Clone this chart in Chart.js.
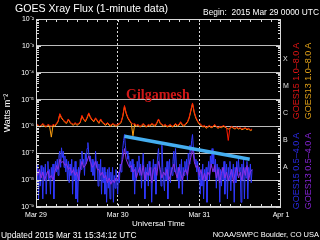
<!DOCTYPE html>
<html>
<head>
<meta charset="utf-8">
<script src="https://cdn.jsdelivr.net/npm/chart.js@4.4.1/dist/chart.umd.min.js"></script>
<style>
  html, body { margin: 0; padding: 0; background: #000; }
  #wrap { position: relative; width: 320px; height: 240px; overflow: hidden; font-family: "Liberation Sans", Arial, sans-serif; color: #fff; }
  #wrap canvas { position: absolute; left: 0; top: 0; }
  .lbl { position: absolute; white-space: pre; line-height: 1; }
  .side { position: absolute; white-space: pre; line-height: 1; font-size: 9px; transform: translate(-50%, -50%) rotate(-90deg); }
</style>
</head>
<body>
<div id="wrap">
  <canvas id="xray" width="320" height="240"></canvas>
  <div class="lbl" style="left:15px;top:3px;font-size:10.6px">GOES Xray Flux (1-minute data)</div>
  <div class="lbl" style="right:1px;top:8px;font-size:8.4px">Begin:  2015 Mar 29 0000 UTC</div>
  <div class="lbl" style="left:1px;top:231px;font-size:8.4px">Updated 2015 Mar 31 15:34:12 UTC</div>
  <div class="lbl" style="right:1px;top:231px;font-size:7.5px">NOAA/SWPC Boulder, CO USA</div>
  <div class="lbl" style="left:126px;top:88px;font-size:14px;font-family:'Liberation Serif',serif;font-weight:bold;color:#d01818">Gilgamesh</div>
  <div class="side" style="left:296px;top:81px;color:#e01414">GOES15 1.0–8.0 A</div>
  <div class="side" style="left:308px;top:81px;color:#e0a018">GOES13 1.0–8.0 A</div>
  <div class="side" style="left:296px;top:171px;color:#2a2ae6">GOES15 0.5–4.0 A</div>
  <div class="side" style="left:308px;top:171px;color:#8424d4">GOES13 0.5–4.0 A</div>
</div>
<script>
// hours from 2015 Mar 29 00:00 UTC
const longStep = 0.5
const shortStep = 0.25

const dayHours = [0, 24, 48, 72]
const dayLabels = ['Mar 29', 'Mar 30', 'Mar 31', 'Apr 1']

const yTickValues = [1e-9, 1e-8, 1e-7, 1e-6, 1e-5, 1e-4, 1e-3, 1e-2]
const yTickLabels = ['10⁻⁹', '10⁻⁸', '10⁻⁷', '10⁻⁶', '10⁻⁵', '10⁻⁴', '10⁻³', '10⁻²']

const flareClasses = ['X', 'M', 'C', 'B', 'A']
const flareLevels = [3.2e-4, 3.2e-5, 3.2e-6, 3.2e-7, 3.2e-8]

// GOES15 1.0-8.0 A, every 30 min
const goes15Long = [
  1.1e-6, 1.2e-6, 1.0e-6, 1.1e-6, 1.3e-6, 1.1e-6, 1.0e-6, 1.2e-6,
  1.1e-6, 1.0e-6, 1.2e-6, 1.1e-6, 1.3e-6, 1.6e-6, 3.0e-6, 2.2e-6,
  1.8e-6, 1.5e-6, 1.4e-6, 1.9e-6, 1.5e-6, 1.3e-6, 1.2e-6, 1.4e-6,
  1.2e-6, 1.3e-6, 1.5e-6, 2.6e-6, 1.9e-6, 1.6e-6, 2.2e-6, 3.2e-6,
  2.3e-6, 1.8e-6, 1.6e-6, 2.1e-6, 1.7e-6, 1.4e-6, 1.9e-6, 1.5e-6,
  1.3e-6, 1.2e-6, 1.4e-6, 1.2e-6, 1.1e-6, 1.3e-6, 1.2e-6, 1.1e-6,
  1.2e-6, 1.3e-6, 1.5e-6, 2.5e-6, 6.0e-6, 3.2e-6, 2.2e-6, 1.7e-6,
  1.4e-6, 1.2e-6, 1.3e-6, 1.1e-6, 1.2e-6, 1.0e-6, 1.1e-6, 1.3e-6,
  1.1e-6, 1.0e-6, 1.2e-6, 1.1e-6, 1.3e-6, 1.2e-6, 1.1e-6, 1.4e-6,
  1.9e-6, 1.4e-6, 1.2e-6, 1.1e-6, 1.2e-6, 1.0e-6, 1.1e-6, 1.2e-6,
  1.0e-6, 1.1e-6, 1.3e-6, 1.1e-6, 1.2e-6, 1.5e-6, 1.2e-6, 1.1e-6,
  1.3e-6, 1.5e-6, 2.2e-6, 4.0e-6, 7.5e-6, 3.5e-6, 2.2e-6, 1.6e-6,
  1.3e-6, 1.2e-6, 1.0e-6, 1.1e-6, 9.0e-7, 1.0e-6, 1.1e-6, 9.5e-7,
  1.0e-6, 1.2e-6, 1.0e-6, 9.0e-7, 1.0e-6, 9.5e-7, 1.1e-6, 1.0e-6,
  9.0e-7, 3.0e-7, 9.0e-7, 1.0e-6, 9.0e-7, 8.5e-7, 9.5e-7, 8.5e-7,
  9.0e-7, 8.0e-7, 8.5e-7, 9.0e-7, 8.0e-7, 8.5e-7, 7.5e-7, 8.0e-7
]

// GOES13 1.0-8.0 A, every 30 min
const goes13Long = [
  1.0e-6, 1.1e-6, 9.5e-7, 1.0e-6, 1.2e-6, 1.0e-6, 9.5e-7, 1.1e-6,
  1.0e-6, 4.0e-7, 1.1e-6, 1.0e-6, 1.2e-6, 1.5e-6, 2.8e-6, 2.0e-6,
  1.7e-6, 1.4e-6, 1.3e-6, 1.8e-6, 1.4e-6, 1.2e-6, 1.1e-6, 1.3e-6,
  1.1e-6, 1.2e-6, 1.4e-6, 2.4e-6, 1.8e-6, 1.5e-6, 2.0e-6, 3.0e-6,
  2.1e-6, 1.7e-6, 1.5e-6, 2.0e-6, 1.6e-6, 1.3e-6, 1.8e-6, 1.4e-6,
  1.2e-6, 1.1e-6, 1.3e-6, 1.1e-6, 1.0e-6, 1.2e-6, 1.1e-6, 1.0e-6,
  1.1e-6, 1.2e-6, 1.4e-6, 2.3e-6, 5.5e-6, 3.0e-6, 2.0e-6, 1.6e-6,
  1.3e-6, 4.5e-7, 1.2e-6, 1.0e-6, 1.1e-6, 9.5e-7, 1.0e-6, 1.2e-6,
  1.0e-6, 9.5e-7, 1.1e-6, 1.0e-6, 1.2e-6, 1.1e-6, 1.0e-6, 1.3e-6,
  1.8e-6, 1.3e-6, 1.1e-6, 1.0e-6, 1.1e-6, 9.5e-7, 1.0e-6, 1.1e-6,
  9.5e-7, 1.0e-6, 1.2e-6, 1.0e-6, 1.1e-6, 1.4e-6, 1.1e-6, 1.0e-6,
  1.2e-6, 1.4e-6, 2.0e-6, 3.7e-6, 7.0e-6, 3.2e-6, 2.0e-6, 1.5e-6,
  1.2e-6, 1.1e-6, 9.5e-7, 1.0e-6, 8.5e-7, 9.5e-7, 1.0e-6, 9.0e-7,
  9.5e-7, 1.1e-6, 9.5e-7, 8.5e-7, 9.5e-7, 9.0e-7, 1.0e-6, 9.5e-7,
  8.5e-7, 8.0e-7, 8.5e-7, 9.5e-7, 8.5e-7, 8.0e-7, 9.0e-7, 8.0e-7,
  8.5e-7, 7.5e-7, 8.0e-7, 8.5e-7, 7.5e-7, 8.0e-7, 7.0e-7, 7.5e-7
]

// GOES15 0.5-4.0 A, every 15 min
const goes15Short = [
  3.0e-8, 8.0e-9, 4.0e-8, 2.0e-9, 2.5e-8, 6.0e-9, 3.5e-8, 1.5e-8,
  2.0e-9, 3.0e-8, 1.0e-8, 4.0e-8, 3.0e-9, 2.0e-8, 5.0e-8, 1.0e-8,
  2.5e-8, 3.0e-9, 3.0e-8, 1.2e-8, 4.0e-8, 2.0e-9, 2.5e-8, 5.0e-8,
  2.0e-8, 6.0e-8, 1.5e-8, 8.0e-8, 1.2e-7, 3.0e-8, 1.6e-7, 7.0e-8,
  1.2e-7, 3.0e-8, 8.0e-8, 2.0e-8, 6.0e-8, 1.0e-8, 5.0e-8, 8.0e-9,
  4.0e-8, 1.5e-8, 6.0e-8, 3.0e-9, 3.0e-8, 1.0e-8, 5.0e-8, 2.0e-9,
  2.5e-8, 1.5e-9, 3.0e-8, 1.0e-8, 6.0e-8, 2.5e-8, 1.2e-7, 4.0e-8,
  6.0e-8, 1.5e-8, 1.0e-7, 4.0e-8, 1.5e-7, 2.5e-7, 1.0e-7, 5.0e-8,
  8.0e-8, 2.0e-8, 6.0e-8, 1.5e-8, 5.0e-8, 1.0e-8, 1.2e-7, 3.0e-8,
  5.0e-8, 6.0e-9, 4.0e-8, 1.0e-8, 6.0e-8, 3.0e-9, 3.0e-8, 8.0e-9,
  3.0e-8, 3.0e-9, 2.0e-8, 1.5e-9, 2.5e-8, 5.0e-9, 3.0e-8, 2.0e-9,
  2.0e-8, 8.0e-9, 3.0e-8, 1.5e-9, 1.5e-8, 5.0e-9, 2.5e-8, 1.0e-8,
  3.0e-9, 2.0e-8, 8.0e-9, 4.0e-8, 2.0e-8, 6.0e-8, 1.5e-7, 3.0e-7,
  5.0e-7, 2.0e-7, 1.0e-7, 1.2e-7, 6.0e-8, 8.0e-8, 3.0e-8, 5.0e-8,
  2.0e-8, 6.0e-8, 1.0e-8, 4.0e-8, 3.0e-9, 3.0e-8, 1.0e-8, 5.0e-8,
  2.0e-8, 8.0e-8, 1.5e-8, 4.0e-8, 5.0e-9, 3.0e-8, 1.0e-7, 2.0e-8,
  2.0e-9, 3.0e-8, 1.0e-8, 4.0e-8, 6.0e-9, 5.0e-8, 1.5e-8, 3.0e-8,
  1.5e-9, 2.0e-8, 6.0e-8, 1.0e-8, 4.0e-8, 3.0e-9, 2.5e-8, 8.0e-8,
  1.5e-7, 4.0e-8, 2.0e-8, 6.0e-9, 2.0e-7, 3.0e-8, 1.0e-8, 4.0e-9,
  3.0e-8, 1.0e-8, 5.0e-8, 2.0e-9, 2.5e-8, 6.0e-8, 8.0e-9, 3.0e-8,
  1.5e-8, 5.0e-8, 1.2e-7, 2.0e-8, 1.5e-7, 4.0e-8, 1.0e-8, 3.0e-8,
  5.0e-9, 4.0e-8, 1.0e-8, 6.0e-8, 3.0e-9, 3.0e-8, 1.5e-8, 5.0e-8,
  2.0e-8, 6.0e-8, 1.0e-8, 1.0e-7, 4.0e-8, 2.0e-7, 1.2e-7, 3.0e-7,
  5.0e-7, 1.5e-7, 8.0e-8, 4.0e-8, 6.0e-8, 2.0e-8, 5.0e-8, 1.0e-8,
  3.0e-8, 3.0e-9, 2.0e-8, 6.0e-9, 4.0e-8, 2.0e-9, 2.5e-8, 1.0e-8,
  3.0e-8, 1.5e-9, 2.0e-8, 5.0e-8, 1.0e-8, 8.0e-8, 3.0e-8, 1.5e-7,
  4.0e-8, 1.0e-7, 2.0e-8, 6.0e-8, 5.0e-9, 4.0e-8, 1.0e-8, 3.0e-8,
  1.5e-9, 2.5e-8, 6.0e-9, 3.0e-8, 1.0e-8, 5.0e-8, 3.0e-9, 2.0e-8,
  4.0e-8, 2.0e-9, 3.0e-8, 1.0e-8, 5.0e-8, 4.0e-9, 2.5e-8, 1.5e-8,
  4.0e-8, 1.5e-9, 3.0e-8, 8.0e-9, 5.0e-8, 1.5e-8, 6.0e-8, 2.0e-8,
  3.0e-8, 1.5e-9, 4.0e-8, 1.0e-8, 6.0e-8, 2.0e-9, 3.0e-8, 1.2e-8,
  5.0e-8, 2.0e-9, 3.0e-8, 1.5e-8, 4.0e-8, 8.0e-9, 2.5e-8
]

// GOES13 0.5-4.0 A, every 30 min
const goes13Short = [
  2.0e-8, 1.5e-8, 2.5e-8, 1.2e-8, 2.0e-8, 1.0e-8, 1.5e-8, 2.2e-8,
  1.2e-8, 1.5e-8, 1.0e-8, 1.8e-8, 3.5e-8, 2.5e-8, 6.0e-8, 4.5e-8,
  5.0e-8, 3.5e-8, 4.0e-8, 2.5e-8, 3.0e-8, 1.8e-8, 2.5e-8, 1.5e-8,
  2.0e-8, 1.0e-8, 2.5e-8, 5.0e-8, 3.0e-8, 3.5e-8, 5.0e-8, 8.0e-8,
  5.0e-8, 3.0e-8, 3.5e-8, 5.0e-8, 2.5e-8, 2.5e-8, 1.5e-8, 2.0e-8,
  1.2e-8, 1.5e-8, 8.0e-9, 1.2e-8, 7.0e-9, 1.0e-8, 8.0e-9, 1.2e-8,
  1.0e-8, 1.8e-8, 3.5e-8, 6.0e-8, 1.5e-7, 6.0e-8, 4.0e-8, 3.0e-8,
  3.5e-8, 2.0e-8, 2.5e-8, 1.2e-8, 2.0e-8, 3.0e-8, 1.5e-8, 3.5e-8,
  1.0e-8, 2.0e-8, 1.5e-8, 3.0e-8, 8.0e-9, 2.5e-8, 3.0e-8, 1.5e-8,
  5.0e-8, 2.5e-8, 1.2e-8, 2.0e-8, 1.5e-8, 2.5e-8, 1.0e-8, 1.5e-8,
  2.5e-8, 4.0e-8, 2.0e-8, 1.2e-8, 3.0e-8, 1.8e-8, 1.0e-8, 2.0e-8,
  2.5e-8, 1.5e-8, 4.0e-8, 7.0e-8, 1.5e-7, 5.0e-8, 3.0e-8, 3.5e-8,
  1.5e-8, 2.5e-8, 1.0e-8, 1.8e-8, 1.0e-8, 2.0e-8, 1.5e-8, 4.0e-8,
  2.0e-8, 3.5e-8, 1.2e-8, 2.5e-8, 8.0e-9, 1.8e-8, 3.0e-8, 1.2e-8,
  2.0e-8, 1.0e-8, 1.5e-8, 2.5e-8, 8.0e-9, 1.8e-8, 3.0e-8, 1.2e-8,
  2.0e-8, 1.0e-8, 3.0e-8, 1.5e-8, 3.5e-8, 1.0e-8, 2.0e-8, 2.5e-8
]

// hand drawn trend line
const trendHours = [26.0, 62.8]
const trendFlux = [4.3e-7, 6.0e-8]


function series(values, step) {
  return values.map((v, i) => ({ x: i * step, y: v }))
}

const font = '"Liberation Sans", Arial, sans-serif'
Chart.defaults.font.family = font

// inner ticks, frame and flare class letters
const frame = {
  id: 'frame',
  afterDatasetsDraw(chart) {
    const { ctx, chartArea: a, scales: { x, y } } = chart
    ctx.save()
    ctx.strokeStyle = '#d8d8d8'
    ctx.lineWidth = 1
    ctx.beginPath()
    for (let h = 3; h < 72; h += 3) {
      const px = Math.round(x.getPixelForValue(h)) + 0.5
      ctx.moveTo(px, a.top)
      ctx.lineTo(px, a.top + 3)
      ctx.moveTo(px, a.bottom)
      ctx.lineTo(px, a.bottom - 3)
    }
    for (let e = -9; e < -2; e++) {
      for (let m = 1; m < 10; m++) {
        const py = Math.round(y.getPixelForValue(m * Math.pow(10, e))) + 0.5
        const len = m === 1 ? 5 : 3
        ctx.moveTo(a.left, py)
        ctx.lineTo(a.left + len, py)
        ctx.moveTo(a.right, py)
        ctx.lineTo(a.right - len, py)
      }
    }
    ctx.stroke()
    ctx.strokeRect(a.left + 0.5, a.top + 0.5, a.right - a.left - 1, a.bottom - a.top - 1)

    ctx.fillStyle = '#e0e0e0'
    ctx.font = '7px ' + font
    ctx.textAlign = 'left'
    ctx.textBaseline = 'middle'
    flareClasses.forEach((c, i) => {
      ctx.fillText(c, a.right + 2, y.getPixelForValue(flareLevels[i]))
    })
    ctx.restore()
  }
}

const data = {
  datasets: [
    {
      label: 'trend',
      data: trendHours.map((h, i) => ({ x: h, y: trendFlux[i] })),
      borderColor: '#45aef0',
      borderWidth: 3.5
    },
    {
      label: 'GOES15 1.0-8.0 A',
      data: series(goes15Long, longStep),
      borderColor: '#ff1a00',
      borderWidth: 1
    },
    {
      label: 'GOES13 1.0-8.0 A',
      data: series(goes13Long, longStep),
      borderColor: '#ffa010',
      borderWidth: 1
    },
    {
      label: 'GOES13 0.5-4.0 A',
      data: series(goes13Short, longStep),
      borderColor: '#8a2ee6',
      borderWidth: 1
    },
    {
      label: 'GOES15 0.5-4.0 A',
      data: series(goes15Short, shortStep),
      borderColor: '#3038ff',
      borderWidth: 1
    }
  ]
}

const config = {
  type: 'line',
  data,
  options: {
    responsive: false,
    animation: false,
    devicePixelRatio: 1,
    layout: { padding: { top: 19, right: 39, left: 0, bottom: 0 } },
    elements: { point: { radius: 0 }, line: { tension: 0 } },
    plugins: { legend: { display: false }, tooltip: { enabled: false } },
    scales: {
      x: {
        type: 'linear',
        min: 0,
        max: 72,
        afterBuildTicks: s => { s.ticks = dayHours.map(v => ({ value: v })) },
        afterFit: s => { s.height = 33 },
        grid: {
          drawTicks: false,
          color: c => (c.tick && c.tick.value > 0 && c.tick.value < 72) ? '#d8d8d8' : 'rgba(0,0,0,0)'
        },
        border: { display: false, dash: [2, 2] },
        ticks: {
          color: '#fff',
          font: { size: 7 },
          padding: 4,
          maxRotation: 0,
          autoSkip: false,
          callback: (v, i) => dayLabels[i]
        },
        title: {
          display: true,
          text: 'Universal Time',
          color: '#fff',
          font: { size: 8 },
          padding: { top: 0, bottom: 11 }
        }
      },
      y: {
        type: 'logarithmic',
        min: 1e-9,
        max: 1e-2,
        afterBuildTicks: s => { s.ticks = yTickValues.map(v => ({ value: v })) },
        afterFit: s => { s.width = 36 },
        grid: { drawTicks: false, color: '#bcbcbc' },
        border: { display: false },
        ticks: {
          color: '#fff',
          font: { size: 7 },
          padding: 2,
          callback: (v, i) => yTickLabels[i]
        },
        title: {
          display: true,
          text: 'Watts m⁻²',
          color: '#fff',
          font: { size: 9 },
          padding: { top: 2, bottom: 0 }
        }
      }
    }
  },
  plugins: [frame]
}

const xrayChart = new Chart(document.getElementById('xray'), config)
</script>
</body>
</html>
